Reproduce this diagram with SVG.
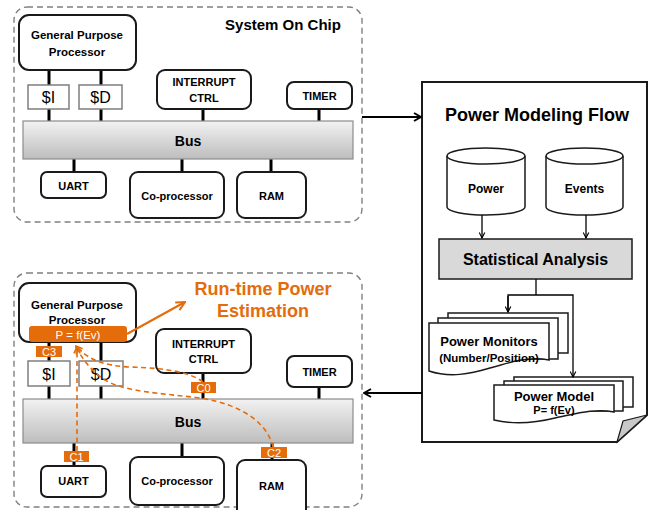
<svg xmlns="http://www.w3.org/2000/svg" width="667" height="510" viewBox="0 0 667 510">
<defs>
<linearGradient id="busGrad" x1="0" y1="0" x2="0" y2="1">
<stop offset="0" stop-color="#f2f2f2"/>
<stop offset="1" stop-color="#bdbdbd"/>
</linearGradient>
<marker id="chevBlack" viewBox="0 0 10 10" refX="9" refY="5" markerWidth="10" markerHeight="10" markerUnits="userSpaceOnUse" orient="auto">
<path d="M2,1 L9,5 L2,9" fill="none" stroke="#000" stroke-width="2"/>
</marker>
<marker id="chevSmall" viewBox="0 0 10 10" refX="9" refY="5" markerWidth="7" markerHeight="7" markerUnits="userSpaceOnUse" orient="auto">
<path d="M1,1 L9,5 L1,9" fill="none" stroke="#000" stroke-width="1.6"/>
</marker>
<marker id="chevOrange" viewBox="0 0 10 10" refX="9" refY="5" markerWidth="11" markerHeight="11" markerUnits="userSpaceOnUse" orient="auto">
<path d="M1,1 L9,5 L1,9" fill="none" stroke="#E46C0A" stroke-width="1.8"/>
</marker>
<marker id="chevOrangeS" viewBox="0 0 10 10" refX="9" refY="5" markerWidth="8" markerHeight="8" markerUnits="userSpaceOnUse" orient="auto">
<path d="M1,1 L9,5 L1,9" fill="none" stroke="#E46C0A" stroke-width="1.8"/>
</marker>
</defs>
<style>
text{font-family:"Liberation Sans",Arial,sans-serif;text-anchor:middle;}
.b{font-weight:bold;}
.box{fill:#fff;stroke:#1a1a1a;stroke-width:2;}
.cache{fill:#fff;stroke:#7f7f7f;stroke-width:1.5;}
.bus{fill:url(#busGrad);stroke:#8c8c8c;stroke-width:1.2;}
.soc{fill:none;stroke:#808080;stroke-width:1.4;stroke-dasharray:6 4;}
.wire{stroke:#000;stroke-width:3;fill:none;}
.thin{stroke:#000;stroke-width:1.3;fill:none;}
.doc{fill:#fff;stroke:#1a1a1a;stroke-width:1.5;}
.tag{fill:#E46C0A;}
.tagt{fill:#fff;font-size:11px;}
.od{stroke:#E46C0A;stroke-width:1.6;stroke-dasharray:5 3.5;fill:none;}
.lbl{font-size:11px;}
</style>

<!-- ===== Upper SoC ===== -->
<g id="soc-top">
<rect class="soc" x="14" y="7" width="348" height="215" rx="13"/>
<text class="b" x="283" y="30" style="font-size:15px">System On Chip</text>
</g>

<g id="connectors-top">
<line class="wire" x1="49" y1="70" x2="49" y2="85"/>
<line class="wire" x1="101" y1="70" x2="101" y2="85"/>
<line class="wire" x1="49" y1="109" x2="49" y2="121"/>
<line class="wire" x1="101" y1="109" x2="101" y2="121"/>
<line class="wire" x1="203" y1="109" x2="203" y2="121"/>
<line class="wire" x1="319" y1="109" x2="319" y2="121"/>
<line class="wire" x1="74" y1="159" x2="74" y2="172"/>
<line class="wire" x1="182" y1="159" x2="182" y2="172"/>
<line class="wire" x1="271" y1="159" x2="271" y2="172"/>
</g>

<g id="gpp-top">
<rect class="box" x="19" y="15" width="117" height="55" rx="10"/>
<text class="b lbl" x="77" y="39" style="font-size:11.5px">General Purpose</text>
<text class="b lbl" x="77" y="56" style="font-size:11.5px">Processor</text>
</g>
<g id="icache-top">
<rect class="cache" x="28" y="85" width="41" height="24"/>
<text x="48.5" y="103" style="font-size:16px">$I</text>
</g>
<g id="dcache-top">
<rect class="cache" x="79" y="85" width="43" height="24"/>
<text x="100.5" y="103" style="font-size:16px">$D</text>
</g>
<g id="intctrl-top">
<rect class="box" x="157" y="70" width="94" height="39" rx="8"/>
<text class="b lbl" x="204" y="86">INTERRUPT</text>
<text class="b lbl" x="204" y="102">CTRL</text>
</g>
<g id="timer-top">
<rect class="box" x="287" y="82" width="65" height="27" rx="7"/>
<text class="b lbl" x="319.5" y="100">TIMER</text>
</g>
<g id="bus-top">
<rect class="bus" x="23" y="121" width="330" height="38"/>
<text class="b" x="188" y="146" style="font-size:14px">Bus</text>
</g>
<g id="uart-top">
<rect class="box" x="41" y="172" width="65" height="26" rx="6"/>
<text class="b lbl" x="73.5" y="190">UART</text>
</g>
<g id="coproc-top">
<rect class="box" x="130" y="172" width="94" height="46" rx="8"/>
<text class="b lbl" x="177" y="200">Co-processor</text>
</g>
<g id="ram-top">
<rect class="box" x="237" y="172" width="69" height="46" rx="8"/>
<text class="b lbl" x="271.5" y="200">RAM</text>
</g>

<!-- ===== Power Modeling Flow ===== -->
<g id="pmf">
<path d="M422,82 H647 V415 L617,442 H422 Z" fill="#fff" stroke="#1a1a1a" stroke-width="2"/>
<path d="M647,415 L623,421 L617,442 Z" fill="#c8c8c8" stroke="#1a1a1a" stroke-width="1.2"/>
<text class="b" x="537" y="121" style="font-size:18px">Power Modeling Flow</text>
</g>

<g id="cyl-power">
<path d="M447,156 A39,8 0 0 1 525,156 V207 A39,8 0 0 1 447,207 Z" fill="#fff" stroke="#1a1a1a" stroke-width="1.5"/>
<path d="M447,156 A39,8 0 0 0 525,156" fill="none" stroke="#1a1a1a" stroke-width="1.5"/>
<text class="b" x="486" y="193" style="font-size:12px">Power</text>
</g>
<g id="cyl-events">
<path d="M546,156 A38.5,8 0 0 1 623,156 V207 A38.5,8 0 0 1 546,207 Z" fill="#fff" stroke="#1a1a1a" stroke-width="1.5"/>
<path d="M546,156 A38.5,8 0 0 0 623,156" fill="none" stroke="#1a1a1a" stroke-width="1.5"/>
<text class="b" x="584.5" y="193" style="font-size:12px">Events</text>
</g>
<g id="stat">
<rect x="439" y="239" width="193" height="40" fill="#d9d9d9" stroke="#1a1a1a" stroke-width="1.5"/>
<text class="b" x="535.5" y="265" style="font-size:16px">Statistical Analysis</text>
</g>
<g id="monitors">
<rect class="doc" x="448" y="313" width="120" height="40"/>
<rect class="doc" x="438" y="318" width="120" height="41"/>
<path class="doc" d="M429,323 H549 V360 C530,356 510,362 490,368 C470,374 450,378 429,371 Z"/>
<text class="b" x="489" y="346" style="font-size:13px">Power Monitors</text>
<text class="b" x="489" y="362" style="font-size:11.5px">(Number/Position)</text>
</g>
<g id="model">
<rect class="doc" x="514" y="377" width="119" height="30"/>
<rect class="doc" x="504" y="381" width="119" height="30"/>
<path class="doc" d="M494,385 H614 V412 C595,408 575,414 555,418 C535,423 515,425 494,420 Z"/>
<text class="b" x="554" y="401" style="font-size:13px">Power Model</text>
<text class="b" x="554" y="414" style="font-size:11px">P= f(Ev)</text>
</g>

<g id="connectors-flow">
<line x1="362" y1="117" x2="421" y2="117" stroke="#000" stroke-width="2" marker-end="url(#chevBlack)"/>
<line x1="422" y1="393" x2="364" y2="393" stroke="#000" stroke-width="2" marker-end="url(#chevBlack)"/>
<line class="thin" x1="482" y1="215" x2="482" y2="238" marker-end="url(#chevSmall)"/>
<line class="thin" x1="586" y1="215" x2="586" y2="238" marker-end="url(#chevSmall)"/>
<polyline class="thin" points="536,279 536,295"/>
<polyline class="thin" points="508,312 508,295 573,295 573,377" marker-end="url(#chevSmall)"/>
<line class="thin" x1="508" y1="296" x2="508" y2="312" marker-end="url(#chevSmall)"/>
</g>

<!-- ===== Lower SoC ===== -->
<g id="soc-bottom">
<rect class="soc" x="14" y="273" width="348" height="234" rx="13"/>
</g>

<g id="connectors-bottom">
<line class="wire" x1="49" y1="342" x2="49" y2="361"/>
<line class="wire" x1="101" y1="342" x2="101" y2="361"/>
<line class="wire" x1="49" y1="386" x2="49" y2="399"/>
<line class="wire" x1="101" y1="386" x2="101" y2="399"/>
<line class="wire" x1="203" y1="373" x2="203" y2="399"/>
<line class="wire" x1="319" y1="387" x2="319" y2="399"/>
<line class="wire" x1="74" y1="443" x2="74" y2="466"/>
<line class="wire" x1="182" y1="443" x2="182" y2="457"/>
<line class="wire" x1="272" y1="443" x2="272" y2="460"/>
</g>

<g id="gpp-bottom">
<rect class="box" x="19" y="283" width="117" height="59" rx="10"/>
<text class="b" x="77" y="309" style="font-size:11.5px">General Purpose</text>
<text class="b" x="77" y="324" style="font-size:11.5px">Processor</text>
<rect class="tag" x="29" y="326" width="98" height="16" rx="3"/>
<text x="78" y="338.5" fill="#fff" style="font-size:11.5px">P = f(Ev)</text>
</g>
<g id="icache-bottom">
<rect class="cache" x="28" y="361" width="42" height="25"/>
<text x="49" y="379.5" style="font-size:16px">$I</text>
</g>
<g id="dcache-bottom">
<rect class="cache" x="79" y="361" width="44" height="25"/>
<text x="101" y="379.5" style="font-size:16px">$D</text>
</g>
<g id="intctrl-bottom">
<rect class="box" x="156" y="329" width="95" height="44" rx="8"/>
<text class="b lbl" x="203.5" y="348">INTERRUPT</text>
<text class="b lbl" x="203.5" y="363">CTRL</text>
</g>
<g id="timer-bottom">
<rect class="box" x="287" y="356" width="65" height="31" rx="7"/>
<text class="b lbl" x="319.5" y="376">TIMER</text>
</g>
<g id="bus-bottom">
<rect class="bus" x="23" y="399" width="330" height="44"/>
<text class="b" x="188" y="427" style="font-size:14px">Bus</text>
</g>
<g id="uart-bottom">
<rect class="box" x="41" y="466" width="65" height="31" rx="6"/>
<text class="b lbl" x="73.5" y="485">UART</text>
</g>
<g id="coproc-bottom">
<rect class="box" x="130" y="457" width="94" height="48" rx="8"/>
<text class="b lbl" x="177" y="485">Co-processor</text>
</g>
<g id="ram-bottom">
<rect class="box" x="237" y="460" width="69" height="60" rx="8"/>
<text class="b lbl" x="271.5" y="490">RAM</text>
</g>

<g id="runtime-label">
<text class="b" x="263" y="295" fill="#E46C0A" style="font-size:18px">Run-time Power</text>
<text class="b" x="263" y="317" fill="#E46C0A" style="font-size:18px">Estimation</text>
</g>

<g id="connectors-runtime">
<line x1="127" y1="334" x2="185" y2="302" stroke="#E46C0A" stroke-width="2" marker-end="url(#chevOrange)"/>
<path class="od" d="M77,451 V347" marker-end="url(#chevOrangeS)"/>
<path class="od" d="M203,382 C190,372 165,368 130,367 C105,366 88,360 76,346" marker-end="url(#chevOrangeS)"/>
<path class="od" d="M273,447 C268,425 245,405 200,398 C160,393 125,392 105,380 C92,372 83,360 76,347" marker-end="url(#chevOrangeS)"/>
</g>

<g id="counter-C3"><rect class="tag" x="36" y="346" width="26" height="11"/><text class="tagt" x="49" y="355.5">C3</text></g>
<g id="counter-C0"><rect class="tag" x="191" y="382" width="25" height="11"/><text class="tagt" x="203.5" y="391.5">C0</text></g>
<g id="counter-C1"><rect class="tag" x="64" y="451" width="25" height="11"/><text class="tagt" x="76.5" y="460.5">C1</text></g>
<g id="counter-C2"><rect class="tag" x="261" y="447" width="26" height="11"/><text class="tagt" x="274" y="456.5">C2</text></g>
</svg>
